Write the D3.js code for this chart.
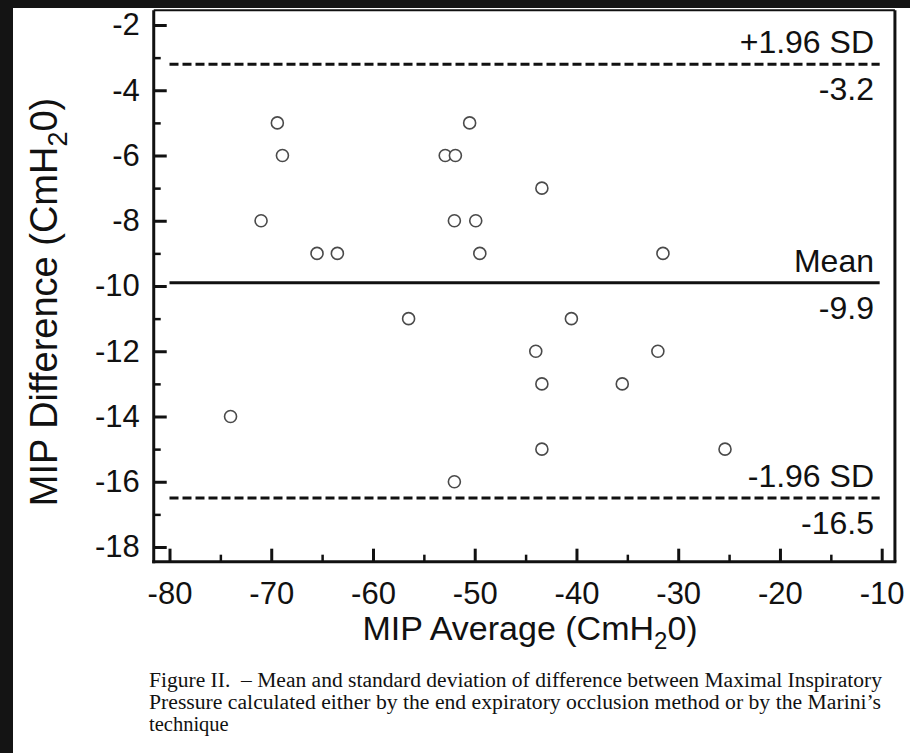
<!DOCTYPE html>
<html>
<head>
<meta charset="utf-8">
<script src="https://cdn.jsdelivr.net/npm/d3@7/dist/d3.min.js"></script>
<style>
  html, body { margin: 0; padding: 0; background: #141414; }
  svg { display: block; }
  text { font-family: "Liberation Sans", Arial, sans-serif; fill: #111; }
  .caption { font-family: "Liberation Serif", "Times New Roman", serif; white-space: pre; }
</style>
</head>
<body>
<svg id="chart" width="910" height="753"></svg>
<script>
// ---- data ----
const mipAverage    = [-69.4, -68.9, -71.0, -65.5, -63.5, -50.5, -52.9, -51.9, -52.0, -49.9, -49.5, -43.4,
                       -56.5, -40.5, -44.0, -32.0, -43.4, -35.5, -43.4, -25.4, -52.0, -31.5, -74.0];
const mipDifference = [-5, -6, -8, -9, -9, -5, -6, -6, -8, -8, -9, -7,
                       -11, -11, -12, -12, -13, -13, -15, -15, -16, -9, -14];
const xTickValues = [-80, -70, -60, -50, -40, -30, -20, -10];
const xMinorTicks = [-75, -65, -55, -45, -35, -25, -15];
const yTickValues = [-2, -4, -6, -8, -10, -12, -14, -16, -18];
const yMinorTicks = [-3, -5, -7, -9, -11, -13, -15, -17];
const refNames  = ["+1.96 SD", "Mean", "-1.96 SD"];
const refValues = [-3.2, -9.9, -16.5];
const refLabels = ["-3.2", "-9.9", "-16.5"];
const xTitle = ["MIP Average (CmH", "2", "0)"];
const yTitle = ["MIP Difference (CmH", "2", "0)"];
const captionLines = [
  "Figure II.  \u2013 Mean and standard deviation of difference between Maximal Inspiratory",
  "Pressure calculated either by the end expiratory occlusion method or by the Marini\u2019s",
  "technique"
];

(function () {
// ---- layout ----
const svg = d3.select("#chart");
const x = d3.scaleLinear().domain([-80, -10]).range([169.5, 881.7]);
const y = d3.scaleLinear().domain([-2, -18]).range([25, 547]);
const frameX = [-81.55, -8.7];
const frameY = [-1.55, -18.45];
const lineX = [-80, -10.2];
const fmt = d => String(d);   // plain hyphen-minus, as in the original

// white paper
svg.append("rect").attr("x", 13).attr("y", 8).attr("width", 897).attr("height", 745).attr("fill", "#fff");

const fLeft = x(frameX[0]), fRight = x(frameX[1]), fTop = y(frameY[0]), fBottom = y(frameY[1]);

// y axis (ticks inward)
const yAxis = svg.append("g").attr("transform", `translate(${fLeft},0)`)
  .call(d3.axisLeft(y).tickValues(yTickValues).tickSizeInner(-13).tickSizeOuter(0).tickPadding(14).tickFormat(fmt));
yAxis.select(".domain").remove();
yAxis.selectAll("line").attr("stroke", "#111").attr("stroke-width", 3);
yAxis.selectAll("text").style("font-size", "31px").attr("fill", "#111").style("font-family", "Liberation Sans, Arial, sans-serif");
const yMinor = svg.append("g").attr("transform", `translate(${fLeft},0)`)
  .call(d3.axisLeft(y).tickValues(yMinorTicks).tickSizeInner(-7).tickSizeOuter(0).tickFormat(""));
yMinor.select(".domain").remove();
yMinor.selectAll("line").attr("stroke", "#111").attr("stroke-width", 2.5);

// x axis
const xAxis = svg.append("g").attr("transform", `translate(0,${fBottom})`)
  .call(d3.axisBottom(x).tickValues(xTickValues).tickSizeInner(-13).tickSizeOuter(0).tickPadding(20).tickFormat(fmt));
xAxis.select(".domain").remove();
xAxis.selectAll("line").attr("stroke", "#111").attr("stroke-width", 3);
xAxis.selectAll("text").style("font-size", "31px").attr("fill", "#111").style("font-family", "Liberation Sans, Arial, sans-serif");
const xMinor = svg.append("g").attr("transform", `translate(0,${fBottom})`)
  .call(d3.axisBottom(x).tickValues(xMinorTicks).tickSizeInner(-7).tickSizeOuter(0).tickFormat(""));
xMinor.select(".domain").remove();
xMinor.selectAll("line").attr("stroke", "#111").attr("stroke-width", 2.5);

// frame
svg.append("line").attr("x1", fLeft).attr("x2", fRight).attr("y1", fTop).attr("y2", fTop).attr("stroke", "#111").attr("stroke-width", 2);
svg.append("line").attr("x1", fRight).attr("x2", fRight).attr("y1", fTop).attr("y2", fBottom).attr("stroke", "#111").attr("stroke-width", 3);
svg.append("line").attr("x1", fLeft).attr("x2", fLeft).attr("y1", fTop).attr("y2", fBottom + 1.5).attr("stroke", "#111").attr("stroke-width", 3);
svg.append("line").attr("x1", fLeft - 1.5).attr("x2", fRight + 1.5).attr("y1", fBottom).attr("y2", fBottom).attr("stroke", "#111").attr("stroke-width", 3);

// reference lines
refValues.forEach((v, i) => {
  svg.append("line")
    .attr("x1", x(lineX[0])).attr("x2", x(lineX[1]))
    .attr("y1", y(v)).attr("y2", y(v))
    .attr("stroke", "#111").attr("stroke-width", 3)
    .attr("stroke-dasharray", i === 1 ? null : "9,4");
  svg.append("text").attr("x", 874).attr("y", y(v) - 11)
    .attr("text-anchor", "end").style("font-size", "32px").text(refNames[i]);
  svg.append("text").attr("x", 874).attr("y", y(v) + 36)
    .attr("text-anchor", "end").style("font-size", "32px").text(refLabels[i]);
});

// points
svg.append("g").selectAll("circle").data(mipAverage.map((d, i) => [d, mipDifference[i]]))
  .join("circle")
  .attr("cx", d => x(d[0])).attr("cy", d => y(d[1])).attr("r", 6)
  .attr("fill", "#fff").attr("stroke", "#4a4a4a").attr("stroke-width", 1.6);

// axis titles
const xt = svg.append("text").attr("x", 530).attr("y", 640).attr("text-anchor", "middle").style("font-size", "34px");
xt.append("tspan").text(xTitle[0]);
xt.append("tspan").attr("dy", 9).style("font-size", "24px").text(xTitle[1]);
xt.append("tspan").attr("dy", -9).text(xTitle[2]);

const yt = svg.append("text").attr("transform", "translate(57,302) rotate(-90)").attr("text-anchor", "middle").style("font-size", "38px");
yt.append("tspan").text(yTitle[0]);
yt.append("tspan").attr("dy", 10).style("font-size", "27px").text(yTitle[1]);
yt.append("tspan").attr("dy", -10).text(yTitle[2]);

// caption
const capLengths = [733, 732, null];
captionLines.forEach((t, i) => {
  const el = svg.append("text").attr("class", "caption").attr("x", 149).attr("y", 687 + i * 22)
    .style("font-size", "20.5px").text(t);
  if (capLengths[i]) el.attr("textLength", capLengths[i]).attr("lengthAdjust", "spacingAndGlyphs");
});
})();
</script>
</body>
</html>
